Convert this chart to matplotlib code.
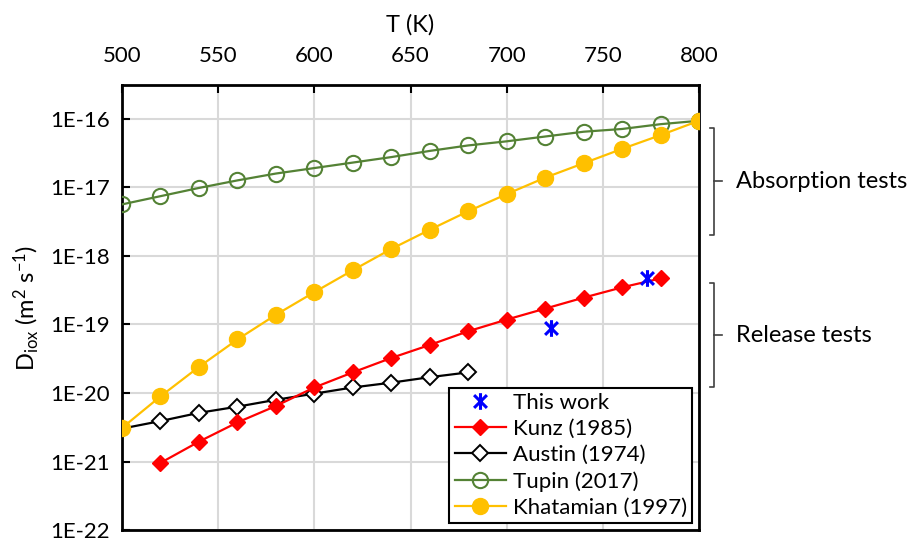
import matplotlib.pyplot as plt
import matplotlib.transforms as mtransforms
from matplotlib.path import Path
from matplotlib.ticker import FixedLocator, FuncFormatter
import numpy as np

plt.rcParams['font.family'] = ['Lato', 'DejaVu Sans']
plt.rcParams['mathtext.fontset'] = 'custom'
plt.rcParams['mathtext.rm'] = 'Lato'
plt.rcParams['mathtext.it'] = 'Lato'

# temperatures (K)
T_full = [500, 520, 540, 560, 580, 600, 620, 640, 660, 680, 700, 720, 740, 760, 780, 800]
T_kunz = [520, 540, 560, 580, 600, 620, 640, 660, 680, 700, 720, 740, 760, 780]
T_austin = [500, 520, 540, 560, 580, 600, 620, 640, 660, 680]
T_this = [723, 773]

# log10 of D (m2/s)
logD_tupin = [-17.25, -17.13, -17.01, -16.90, -16.80, -16.72, -16.64, -16.56,
              -16.47, -16.39, -16.33, -16.26, -16.19, -16.15, -16.08, -16.03]
logD_khat = [-20.51, -20.05, -19.62, -19.22, -18.86, -18.53, -18.21, -17.90,
             -17.62, -17.35, -17.10, -16.86, -16.65, -16.44, -16.24, -16.03]
logD_kunz = [-21.02, -20.71, -20.43, -20.19, -19.92, -19.70, -19.49, -19.30,
             -19.10, -18.93, -18.77, -18.61, -18.46, -18.33]
logD_austin = [-20.52, -20.41, -20.29, -20.20, -20.10, -20.01, -19.92, -19.85,
               -19.77, -19.70]
logD_this = [-19.06, -18.32]

D = lambda v: 10.0 ** np.array(v)

# asterisk without the horizontal bar
star = Path([(-1, -1), (1, 1), (-1, 1), (1, -1), (0, -1.3), (0, 1.3)],
            [Path.MOVETO, Path.LINETO, Path.MOVETO, Path.LINETO, Path.MOVETO, Path.LINETO])

fig = plt.figure(figsize=(9.14, 5.42), dpi=100)
ax = fig.add_axes([0.1335, 0.022, 0.6313, 0.821])

ax.plot(T_this, D(logD_this), ls='none', marker=star, ms=12, mfc='none',
        mec='#0000ff', mew=2.2, label='This work', zorder=6)
ax.plot(T_kunz, D(logD_kunz), color='#ff0000', lw=1.6, marker='D', ms=8.5,
        mfc='#ff0000', mec='#ff0000', label='Kunz (1985)', zorder=4)
ax.plot(T_austin, D(logD_austin), color='black', lw=1.6, marker='D', ms=8,
        mfc='white', mec='black', mew=1.4, label='Austin (1974)', zorder=3)
ax.plot(T_full, D(logD_tupin), color='#548235', lw=1.6, marker='o', ms=11,
        mfc='none', mec='#548235', mew=1.5, label='Tupin (2017)', zorder=3)
ax.plot(T_full, D(logD_khat), color='#ffc000', lw=1.6, marker='o', ms=11.5,
        mfc='#ffc000', mec='#ffc000', label='Khatamian (1997)', zorder=5)

ax.set_yscale('log')
ax.set_xlim(500, 800)
ax.set_ylim(1e-22, 10 ** -15.51)
ax.xaxis.tick_top()
ax.xaxis.set_label_position('top')
ax.set_xticks([500, 550, 600, 650, 700, 750, 800])
ax.yaxis.set_major_locator(FixedLocator([1e-22, 1e-21, 1e-20, 1e-19, 1e-18, 1e-17, 1e-16]))
ax.yaxis.set_minor_locator(FixedLocator([]))
ax.yaxis.set_major_formatter(FuncFormatter(lambda v, p: '1E%d' % round(np.log10(v))))
ax.tick_params(direction='in', length=6, width=1.5, labelsize=16)
ax.tick_params(axis='x', pad=14)
ax.tick_params(axis='y', pad=9)
ax.grid(True, color='#d9d9d9', lw=1.5)
ax.set_axisbelow(True)
for s in ax.spines.values():
    s.set_linewidth(2)

ax.set_xlabel('T (K)', fontsize=17, labelpad=10)
ax.set_ylabel(r'D$_{\mathrm{iox}}$ (m$^{2}$ s$^{-1}$)', fontsize=17, labelpad=6)

leg = ax.legend(loc='lower right', fontsize=16, frameon=True, fancybox=False,
                edgecolor='black', framealpha=1, borderaxespad=0.3,
                handlelength=2.3, handletextpad=0.3, borderpad=0.25,
                labelspacing=0.27)
leg.get_frame().set_linewidth(1.5)

# brackets on the right
tr = mtransforms.blended_transform_factory(ax.transAxes, ax.transData)
for lo, hi, txt in [(-17.69, -16.14, 'Absorption tests'), (-19.92, -18.40, 'Release tests')]:
    mid = (lo + hi) / 2
    ax.plot([1.019, 1.026, 1.026, 1.019], [10 ** hi, 10 ** hi, 10 ** lo, 10 ** lo],
            transform=tr, color='#404040', lw=1.2, clip_on=False)
    ax.plot([1.026, 1.040], [10 ** mid, 10 ** mid], transform=tr,
            color='#404040', lw=1.2, clip_on=False)
    ax.text(1.064, 10 ** mid, txt, transform=tr, fontsize=17, va='center', ha='left')

fig.savefig('out.png', dpi=100)
